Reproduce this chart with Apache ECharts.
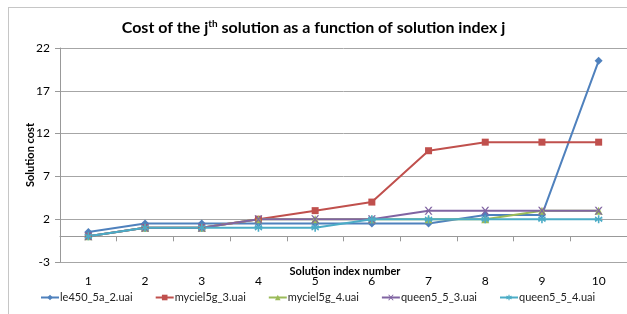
<!DOCTYPE html>
<html>
<head>
<meta charset="utf-8">
<script src="https://cdn.jsdelivr.net/npm/echarts@6/dist/echarts.min.js"></script>
<style>
  html, body { margin: 0; padding: 0; background: #fff; }
  #frame { position: absolute; left: 8px; top: 7px; width: 640px; height: 320px; border: 1px solid #c6c6c6; box-sizing: border-box; }
  #main { position: absolute; left: 0; top: 0; width: 627px; height: 314px; }
</style>
</head>
<body>
<div id="frame"></div>
<div id="main"></div>
<script>
// categories = solution index j
var solutionIndex = ['1', '2', '3', '4', '5', '6', '7', '8', '9', '10'];
// one array per instance (solution cost)
var le450_5a_2 = [0.5, 1.5, 1.5, 1.5, 1.5, 1.5, 1.5, 2.5, 2.5, 20.5];
var myciel5g_3 = [0, 1, 1, 2, 3, 4, 10, 11, 11, 11];
var myciel5g_4 = [0, 1, 1, 2, 2, 2, 2, 2, 3, 3];
var queen5_5_3 = [0, 1, 1, 2, 2, 2, 3, 3, 3, 3];
var queen5_5_4 = [0, 1, 1, 1, 1, 2, 2, 2, 2, 2];

var xMark = 'path://M0,0 L2,0 L5,3 L8,0 L10,0 L6,4 L10,8 L8,8 L5,5 L2,8 L0,8 L4,4 Z';
var starMark = 'path://M4,0 L6,0 L6,3 L9,1 L10,3 L7,4 L10,5 L9,7 L6,5 L6,8 L4,8 L4,5 L1,7 L0,5 L3,4 L0,3 L1,1 L4,3 Z';

function mkSeries(name, data, color, symbol, size) {
    return {
        name: name,
        type: 'line',
        data: data,
        symbol: symbol,
        symbolSize: size,
        showAllSymbol: true,
        lineStyle: { color: color, width: 2 },
        itemStyle: { color: color },
        emphasis: { disabled: true }
    };
}

var myChart = echarts.init(document.getElementById('main'));
var option = {
    animation: false,
    textStyle: { fontFamily: 'Lato, "Open Sans", sans-serif' },
    title: {
        text: 'Cost of the j{sup|th} solution as a function of solution index j',
        left: 'center',
        top: 14,
        textStyle: {
            fontSize: 16,
            fontWeight: 'bold',
            color: '#000',
            fontFamily: 'Lato, sans-serif',
            rich: {
                sup: { fontSize: 10, fontWeight: 'bold', verticalAlign: 'top', padding: [0, 0, 8, 0], fontFamily: 'Lato, sans-serif' }
            }
        }
    },
    // axis titles
    graphic: [{
        type: 'text',
        x: 345, y: 271,
        style: { text: 'Solution index number', font: 'bold 11px Lato, sans-serif', fill: '#000', align: 'center', verticalAlign: 'middle' }
    }, {
        type: 'text',
        x: 30, y: 155,
        rotation: Math.PI / 2,
        style: { text: 'Solution cost', font: 'bold 11px Lato, sans-serif', fill: '#000', align: 'center', verticalAlign: 'middle' }
    }],
    legend: {
        bottom: 11,
        left: 40,
        width: 590,
        itemGap: 22,
        itemWidth: 18,
        itemHeight: 7,
        padding: 0,
        textStyle: { fontSize: 11, color: '#222', fontFamily: 'Lato, sans-serif', padding: [0, 0, 0, -4] },
        data: ['le450_5a_2.uai', 'myciel5g_3.uai', 'myciel5g_4.uai', 'queen5_5_3.uai', 'queen5_5_4.uai']
    },
    grid: { left: 60, right: 0, top: 48, height: 214, containLabel: false },
    xAxis: {
        type: 'category',
        data: solutionIndex,
        boundaryGap: true,
        axisLine: { onZero: true, lineStyle: { color: '#999', width: 1 } },
        axisTick: { show: true, length: 5, lineStyle: { color: '#999' } },
        axisLabel: { fontSize: 12, color: '#000', margin: 13 },
        splitLine: { show: false }
    },
    yAxis: {
        type: 'value',
        min: -3,
        max: 22,
        interval: 5,
        axisLine: { show: true, lineStyle: { color: '#999' } },
        axisTick: { show: true, length: 5, lineStyle: { color: '#999' } },
        axisLabel: { fontSize: 12, color: '#000', margin: 10 },
        splitLine: { show: true, lineStyle: { color: '#a6a6a6', width: 1 } }
    },
    series: [
        mkSeries('le450_5a_2.uai', le450_5a_2, '#4F81BD', 'diamond', 8),
        mkSeries('myciel5g_3.uai', myciel5g_3, '#C0504D', 'rect', 7),
        mkSeries('myciel5g_4.uai', myciel5g_4, '#9BBB59', 'triangle', 8),
        mkSeries('queen5_5_3.uai', queen5_5_3, '#8064A2', xMark, 8),
        mkSeries('queen5_5_4.uai', queen5_5_4, '#4BACC6', starMark, 8)
    ]
};
myChart.setOption(option);
</script>
</body>
</html>
